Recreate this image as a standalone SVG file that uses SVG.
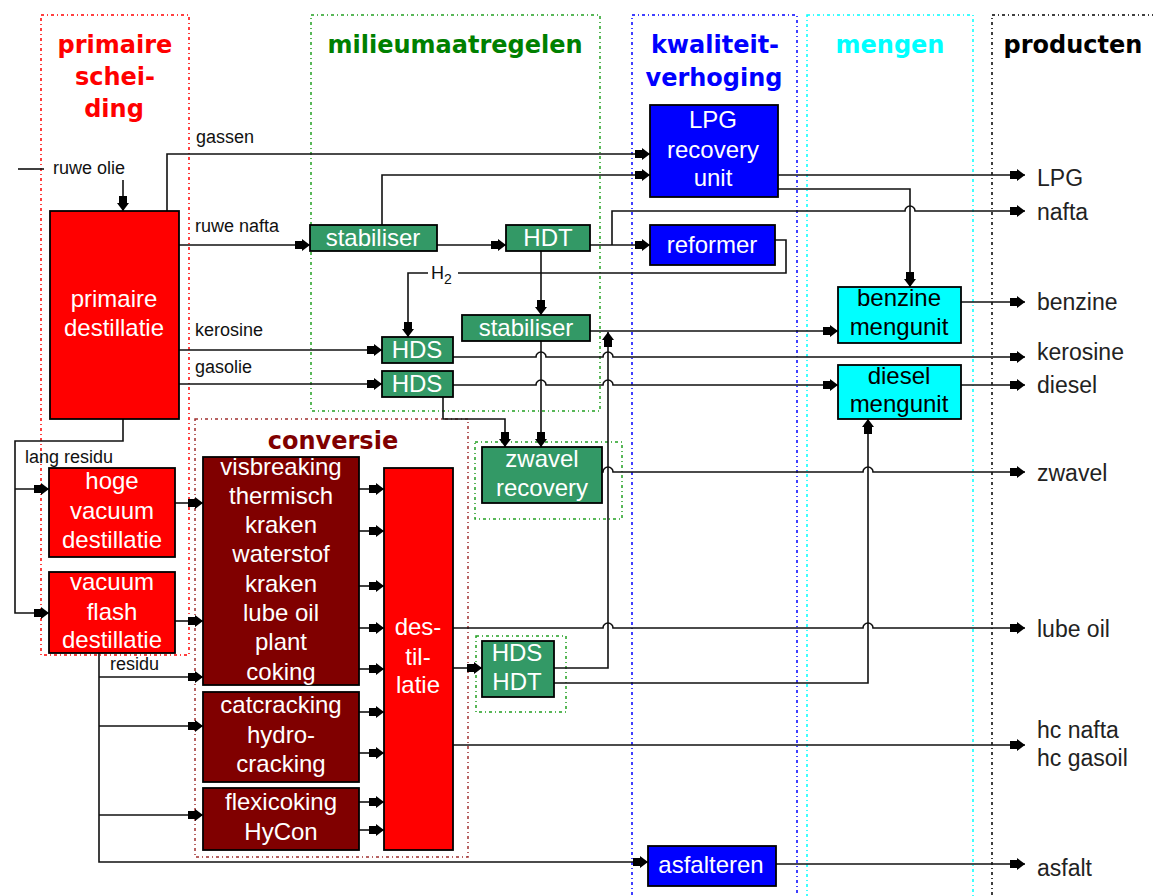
<svg xmlns="http://www.w3.org/2000/svg" width="1153" height="896" viewBox="0 0 1153 896">
  <style>
    .zone { fill: none; stroke-width: 1.5; stroke-dasharray: 3 3 1 3; }
    .hdr { font-family: "DejaVu Sans", "Liberation Sans", sans-serif; font-weight: bold; font-size: 24px; text-anchor: middle; }
    .box { stroke: #000; stroke-width: 1.8; }
    .red { fill: #ff0000; }
    .dred { fill: #800000; }
    .grn { fill: #339966; }
    .blu { fill: #0000ff; }
    .cyn { fill: #00ffff; }
    .nt { font-family: "Liberation Sans", Arial, sans-serif; font-size: 24px; fill: #fff; text-anchor: middle; }
    .nt.dark { fill: #000; }
    .lbl { font-family: "Liberation Sans", Arial, sans-serif; font-size: 18px; fill: #111; }
    .prod { font-family: "Liberation Sans", Arial, sans-serif; font-size: 23px; fill: #222; }
    .ln { fill: none; stroke: #111; stroke-width: 1.6; }
    .ar { marker-end: url(#arr); }
  </style>
  <defs>
    <marker id="arr" markerUnits="userSpaceOnUse" markerWidth="16" markerHeight="12" refX="15" refY="6" orient="auto" overflow="visible">
      <path d="M0,2 H7 V0 L15,6 L7,12 V10 H0 Z" fill="#000"/>
    </marker>
  </defs>
  <rect width="1153" height="896" fill="#fff"/>

  <!-- column zones and their headings -->
  <g id="zones">
    <rect class="zone" x="41" y="15" width="148" height="640" stroke="#ff0000"/>
    <rect class="zone" x="311" y="15" width="289" height="396" stroke="#22a022"/>
    <rect class="zone" x="632" y="15" width="165" height="900" stroke="#0000ff"/>
    <rect class="zone" x="807" y="15" width="166" height="900" stroke="#00ffff"/>
    <rect class="zone" x="992" y="15" width="180" height="900" stroke="#000"/>
    <rect class="zone" x="195" y="419" width="273" height="438" stroke="#a03030"/>
    <rect class="zone" x="475" y="442" width="147" height="77" stroke="#22a022"/>
    <rect class="zone" x="476" y="636" width="90" height="76" stroke="#22a022"/>

    <text class="hdr" fill="#ff0000" x="115" y="53">primaire</text>
    <text class="hdr" fill="#ff0000" x="115" y="85">schei-</text>
    <text class="hdr" fill="#ff0000" x="114" y="117">ding</text>
    <text class="hdr" fill="#008000" x="455" y="53">milieumaatregelen</text>
    <text class="hdr" fill="#0000ff" x="715" y="53">kwaliteit-</text>
    <text class="hdr" fill="#0000ff" x="714" y="86">verhoging</text>
    <text class="hdr" fill="#00ffff" x="890" y="53">mengen</text>
    <text class="hdr" fill="#000" x="1073" y="53">producten</text>
    <text class="hdr" fill="#800000" x="333" y="449">conversie</text>
  </g>

  <!-- flows -->
  <g id="connectors">
    <path class="ln" d="M18,169 H44"/>
    <path class="ln ar" d="M123,180 V211"/>
    <path class="ln ar" d="M167,211 V154 H650"/>
    <path class="ln ar" d="M179,245 H310"/>
    <path class="ln ar" d="M382,225 V175 H650"/>
    <path class="ln ar" d="M437,245 H506"/>
    <path class="ln ar" d="M590,245 H650"/>
    <path class="ln ar" d="M612,245 V211 H905 a5,5 0 0 1 10,0 H1025"/>
    <path class="ln ar" d="M775,240 H786 V273 H458 M428,273 H408 V337"/>
    <path class="ln ar" d="M541,251 V315"/>
    <path class="ln ar" d="M778,175 H1025"/>
    <path class="ln ar" d="M778,189 H910 V287"/>
    <path class="ln ar" d="M590,331 H838"/>
    <path class="ln ar" d="M179,350 H382"/>
    <path class="ln ar" d="M179,384 H382"/>
    <path class="ln ar" d="M453,357 H536 a5,5 0 0 1 10,0 H603 a5,5 0 0 1 10,0 H1025"/>
    <path class="ln ar" d="M453,385 H536 a5,5 0 0 1 10,0 H603 a5,5 0 0 1 10,0 H838"/>
    <path class="ln ar" d="M443,397 V419 H505 V447"/>
    <path class="ln ar" d="M541,341 V447"/>
    <path class="ln ar" d="M602,472 H603 a5,5 0 0 1 10,0 H863 a5,5 0 0 1 10,0 H1025"/>
    <path class="ln ar" d="M453,628 H603 a5,5 0 0 1 10,0 H863 a5,5 0 0 1 10,0 H1025"/>
    <path class="ln ar" d="M453,668 H482"/>
    <path class="ln ar" d="M554,668 H608 V332"/>
    <path class="ln ar" d="M554,683 H868 V419"/>
    <path class="ln ar" d="M453,745 H1025"/>
    <path class="ln ar" d="M961,302 H1025"/>
    <path class="ln ar" d="M961,385 H1025"/>
    <path class="ln ar" d="M123,419 V441 H15 V613 H49"/>
    <path class="ln ar" d="M15,489 H49"/>
    <path class="ln ar" d="M175,503 H203"/>
    <path class="ln ar" d="M175,621 H203"/>
    <path class="ln ar" d="M99,653 V862 H648"/>
    <path class="ln ar" d="M99,677 H203"/>
    <path class="ln ar" d="M99,726 H203"/>
    <path class="ln ar" d="M99,815 H203"/>
    <path class="ln ar" d="M359,489 H384"/>
    <path class="ln ar" d="M359,531 H384"/>
    <path class="ln ar" d="M359,586 H384"/>
    <path class="ln ar" d="M359,628 H384"/>
    <path class="ln ar" d="M359,669 H384"/>
    <path class="ln ar" d="M359,712 H384"/>
    <path class="ln ar" d="M359,753 H384"/>
    <path class="ln ar" d="M359,802 H384"/>
    <path class="ln ar" d="M359,830 H384"/>
    <path class="ln ar" d="M776,864 H1025"/>
  </g>

  <!-- stream labels -->
  <g id="stream-labels">
    <text class="lbl" x="196" y="143">gassen</text>
    <text class="lbl" x="53" y="174">ruwe olie</text>
    <text class="lbl" x="195" y="232">ruwe nafta</text>
    <text class="lbl" x="195" y="336">kerosine</text>
    <text class="lbl" x="195" y="373">gasolie</text>
    <text class="lbl" x="25" y="463">lang residu</text>
    <text class="lbl" x="110" y="670">residu</text>
    <text class="lbl" x="431" y="279" font-size="19">H<tspan font-size="14" dy="5">2</tspan></text>
  </g>

  <g id="primaire-destillatie">
    <rect class="box red" x="50" y="211" width="129" height="208"/>
    <text class="nt" x="114" y="307">primaire</text>
    <text class="nt" x="114" y="336">destillatie</text>
  </g>
  <g id="hoge-vacuum-destillatie">
    <rect class="box red" x="49" y="468" width="126" height="89"/>
    <text class="nt" x="112" y="489">hoge</text>
    <text class="nt" x="112" y="519">vacuum</text>
    <text class="nt" x="112" y="548">destillatie</text>
  </g>
  <g id="vacuum-flash-destillatie">
    <rect class="box red" x="49" y="572" width="126" height="81"/>
    <text class="nt" x="112" y="590">vacuum</text>
    <text class="nt" x="112" y="620">flash</text>
    <text class="nt" x="112" y="648">destillatie</text>
  </g>
  <g id="kraakprocessen">
    <rect class="box dred" x="203" y="457" width="156" height="228"/>
    <text class="nt" x="281" y="475">visbreaking</text>
    <text class="nt" x="281" y="504">thermisch</text>
    <text class="nt" x="281" y="533">kraken</text>
    <text class="nt" x="281" y="562">waterstof</text>
    <text class="nt" x="281" y="592">kraken</text>
    <text class="nt" x="281" y="621">lube oil</text>
    <text class="nt" x="281" y="650">plant</text>
    <text class="nt" x="281" y="680">coking</text>
  </g>
  <g id="catcracking">
    <rect class="box dred" x="203" y="692" width="156" height="90"/>
    <text class="nt" x="281" y="713">catcracking</text>
    <text class="nt" x="281" y="743">hydro-</text>
    <text class="nt" x="281" y="772">cracking</text>
  </g>
  <g id="flexicoking">
    <rect class="box dred" x="203" y="788" width="156" height="62"/>
    <text class="nt" x="281" y="810">flexicoking</text>
    <text class="nt" x="281" y="840">HyCon</text>
  </g>
  <g id="destillatie">
    <rect class="box red" x="384" y="468" width="69" height="382"/>
    <text class="nt" x="418" y="635">des-</text>
    <text class="nt" x="418" y="665">til-</text>
    <text class="nt" x="418" y="693">latie</text>
  </g>
  <g id="stabiliser-1">
    <rect class="box grn" x="310" y="225" width="127" height="26"/>
    <text class="nt" x="373" y="246">stabiliser</text>
  </g>
  <g id="hdt">
    <rect class="box grn" x="506" y="225" width="84" height="26"/>
    <text class="nt" x="548" y="246">HDT</text>
  </g>
  <g id="stabiliser-2">
    <rect class="box grn" x="462" y="315" width="128" height="26"/>
    <text class="nt" x="526" y="336">stabiliser</text>
  </g>
  <g id="hds-1">
    <rect class="box grn" x="382" y="337" width="71" height="26"/>
    <text class="nt" x="417" y="358">HDS</text>
  </g>
  <g id="hds-2">
    <rect class="box grn" x="382" y="371" width="71" height="26"/>
    <text class="nt" x="417" y="392">HDS</text>
  </g>
  <g id="zwavel-recovery">
    <rect class="box grn" x="482" y="447" width="120" height="56"/>
    <text class="nt" x="542" y="467">zwavel</text>
    <text class="nt" x="542" y="496">recovery</text>
  </g>
  <g id="hds-hdt">
    <rect class="box grn" x="482" y="641" width="72" height="56"/>
    <text class="nt" x="517" y="661">HDS</text>
    <text class="nt" x="517" y="690">HDT</text>
  </g>
  <g id="lpg-recovery-unit">
    <rect class="box blu" x="650" y="105" width="128" height="92"/>
    <text class="nt" x="713" y="128">LPG</text>
    <text class="nt" x="713" y="158">recovery</text>
    <text class="nt" x="713" y="186">unit</text>
  </g>
  <g id="reformer">
    <rect class="box blu" x="650" y="225" width="125" height="40"/>
    <text class="nt" x="712" y="253">reformer</text>
  </g>
  <g id="asfalteren">
    <rect class="box blu" x="648" y="846" width="128" height="40"/>
    <text class="nt" x="711" y="873">asfalteren</text>
  </g>
  <g id="benzine-mengunit">
    <rect class="box cyn" x="838" y="287" width="123" height="56"/>
    <text class="nt dark" x="899" y="306">benzine</text>
    <text class="nt dark" x="899" y="335">mengunit</text>
  </g>
  <g id="diesel-mengunit">
    <rect class="box cyn" x="838" y="365" width="123" height="54"/>
    <text class="nt dark" x="899" y="384">diesel</text>
    <text class="nt dark" x="899" y="412">mengunit</text>
  </g>

  <g id="producten">
    <text class="prod" x="1037" y="186">LPG</text>
    <text class="prod" x="1037" y="220">nafta</text>
    <text class="prod" x="1037" y="310">benzine</text>
    <text class="prod" x="1037" y="360">kerosine</text>
    <text class="prod" x="1037" y="393">diesel</text>
    <text class="prod" x="1037" y="481">zwavel</text>
    <text class="prod" x="1037" y="637">lube oil</text>
    <text class="prod" x="1037" y="738">hc nafta</text>
    <text class="prod" x="1037" y="766">hc gasoil</text>
    <text class="prod" x="1037" y="876">asfalt</text>
  </g>
</svg>
